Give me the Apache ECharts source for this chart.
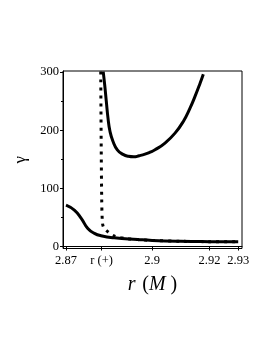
<!DOCTYPE html>
<html><head><meta charset="utf-8">
<script src="https://cdn.jsdelivr.net/npm/echarts@6/dist/echarts.min.js"></script>
<style>html,body{margin:0;padding:0;background:#fff}#c{width:273px;height:353px}</style>
</head><body><div id="c"></div>
<script>
// tick positions and labels
const xTickValues = [2.87, 2.8824, 2.9, 2.92, 2.93];
const xTickLabels = ['2.87', 'r (+)', '2.9', '2.92', '2.93'];
const yTickValues = [0, 100, 200, 300];
const yMinorTickValues = [50, 150, 250];

// lower solid curve
const lowerX = [2.87, 2.8729, 2.8753, 2.8776, 2.8799, 2.8822, 2.8868, 2.8950, 2.900, 2.910, 2.920, 2.93];
const lowerY = [71.3, 62.7, 48.5, 31, 22.7, 18.6, 15, 12, 10.5, 9, 8.3, 8];
// upper solid curve
const upperX = [2.88296, 2.88348, 2.88404, 2.88463, 2.88533, 2.88638, 2.88787, 2.88986, 2.8917, 2.8936, 2.8955, 2.89753, 2.8993, 2.90101, 2.90449, 2.90798, 2.91087, 2.91321, 2.91495, 2.91672, 2.91784];
const upperY = [301, 278.2, 249.6, 220.9, 197.9, 180.7, 166.4, 158.5, 155.2, 154.3, 156.2, 158.9, 162.3, 166.4, 177.9, 195.1, 215.2, 238.1, 258.3, 281, 296.5];
// dotted curve
const dotX = [2.8821, 2.88225, 2.88244, 2.88265, 2.8830, 2.8842, 2.8871, 2.8909, 2.8950, 2.900, 2.910, 2.920, 2.93];
const dotY = [301, 180, 81, 44, 34, 27, 17.5, 14, 12, 10.5, 9, 8.3, 8];

const zip = (a, b) => a.map((v, i) => [v, b[i]]);
const font = 'Liberation Serif';

const chart = echarts.init(document.getElementById('c'));
chart.setOption({
  animation: false,
  grid: { left: 63, right: 31, top: 71, bottom: 104.5, show: true, borderColor: '#000', borderWidth: 1, backgroundColor: 'transparent' },
  xAxis: {
    type: 'value', min: 2.86895, max: 2.93132,
    name: '{i|r}  {n|(}{i|M}{n| )}', nameLocation: 'middle', nameGap: 26,
    nameTextStyle: { rich: { i: { fontFamily: font, fontStyle: 'italic', fontSize: 20, color: '#000' }, n: { fontFamily: font, fontSize: 20, color: '#000' } } },
    axisLine: { show: true, lineStyle: { color: '#000', width: 1 } },
    axisTick: { show: true, length: 4, lineStyle: { color: '#000' }, customValues: xTickValues },
    axisLabel: { color: '#000', fontFamily: font, fontSize: 12.5, margin: 6, customValues: xTickValues,
      formatter: v => { const i = xTickValues.findIndex(t => Math.abs(t - v) < 1e-6); return i >= 0 ? xTickLabels[i] : ''; } },
    splitLine: { show: false }
  },
  yAxis: [{
    type: 'value', min: -3.4, max: 302,
    name: 'γ', nameLocation: 'middle', nameGap: 33, nameRotate: 90,
    nameTextStyle: { fontFamily: font, fontSize: 17, color: '#000' },
    axisLine: { show: true, lineStyle: { color: '#000', width: 1 } },
    axisTick: { show: true, length: 3, lineStyle: { color: '#000' }, customValues: yTickValues },
    axisLabel: { color: '#000', fontFamily: font, fontSize: 12.5, margin: 4, customValues: yTickValues },
    splitLine: { show: false }
  }, {
    type: 'value', min: -3.4, max: 302, position: 'left',
    axisLine: { show: false },
    axisTick: { show: true, length: 2, lineStyle: { color: '#000' }, customValues: yMinorTickValues },
    axisLabel: { show: false },
    splitLine: { show: false }
  }],
  series: [
    { type: 'line', data: zip(lowerX, lowerY), showSymbol: false, smooth: 0.5, lineStyle: { color: '#000', width: 3 } },
    { type: 'line', data: zip(upperX, upperY), showSymbol: false, smooth: 0.5, lineStyle: { color: '#000', width: 3 } },
    { type: 'line', data: zip(dotX, dotY), showSymbol: false, smooth: 0.3, lineStyle: { color: '#000', width: 3, type: [3, 5], cap: 'butt' } }
  ]
});
</script></body></html>
